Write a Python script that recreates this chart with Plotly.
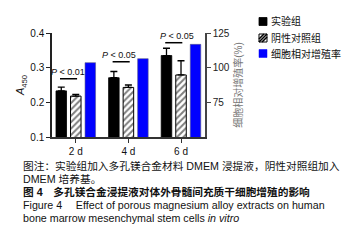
import plotly.graph_objects as go

# ---- data ----
days = ["2 d", "4 d", "6 d"]
exp_vals = [0.233, 0.271, 0.335]
exp_err = [0.011, 0.018, 0.021]
neg_vals = [0.218, 0.243, 0.279]
neg_err = [0.005, 0.007, 0.041]
rate_vals = [103.6, 106.5, 116.8]
sig_labels = ["P < 0.01", "P < 0.05", "P < 0.05"]
sig_heights = [0.268, 0.317, 0.372]
legend_names = ["实验组", "阴性对照组", "细胞相对增殖率"]

FONT = "Liberation Sans, Arial, Noto Sans CJK SC"
CJK = "Liberation Sans, Noto Sans CJK SC"

BW = 0.2
GAP = 0.076
off_neg = -BW / 2
off_exp = off_neg - GAP - BW
off_rate = BW / 2 + GAP

fig = go.Figure()
fig.add_trace(go.Bar(
    x=days, y=exp_vals, name=legend_names[0], width=BW, offset=off_exp,
    marker=dict(color="black", line=dict(color="black", width=0.8)),
    error_y=dict(type="data", symmetric=False, array=exp_err, arrayminus=[0, 0, 0],
                 color="black", thickness=1.3, width=3.5),
    showlegend=False))
fig.add_trace(go.Bar(
    x=days, y=neg_vals, name=legend_names[1], width=BW, offset=off_neg,
    marker=dict(color="white", line=dict(color="black", width=1),
                pattern=dict(shape="/", fgcolor="black", bgcolor="white", size=4.5, solidity=0.45)),
    error_y=dict(type="data", symmetric=False, array=neg_err, arrayminus=[0, 0, 0],
                 color="black", thickness=1.3, width=3.5),
    showlegend=False))
fig.add_trace(go.Bar(
    x=days, y=rate_vals, name=legend_names[2], width=BW, offset=off_rate, yaxis="y2",
    marker=dict(color="#0000ff", line=dict(color="#5a5a8a", width=0.6)),
    showlegend=False))

# significance brackets
shapes = []
annotations = []
txt_shift = [-0.14, -0.17, -0.08]
for i, (lab, h) in enumerate(zip(sig_labels, sig_heights)):
    shapes.append(dict(type="line", xref="x", yref="y", x0=i - 0.30, x1=i + 0.025,
                       y0=h, y1=h, line=dict(color="black", width=1.5)))
    annotations.append(dict(xref="x", yref="y", x=i + txt_shift[i], y=h, yshift=7,
                            text="<i>P</i> &lt; " + lab.split("< ")[1], showarrow=False,
                            font=dict(family=FONT, size=9, color="#111"),
                            xanchor="center", yanchor="middle"))

# paper coordinate helpers (plot area: x 52..205, y 33..137)
def px_x(p):
    return (p - 52) / 153.0

def px_y(p):
    return (137 - p) / 104.0

# manual legend
leg_rows = [21.5, 38, 53.5]
bx0, bx1 = 259, 267
for i, (row, name) in enumerate(zip(leg_rows, legend_names)):
    y0, y1 = row - 4, row + 4
    if i == 0:
        shapes.append(dict(type="rect", xref="paper", yref="paper", x0=px_x(bx0), x1=px_x(bx1),
                           y0=px_y(y1), y1=px_y(y0), fillcolor="black", line=dict(color="black", width=0.8)))
    elif i == 1:
        shapes.append(dict(type="rect", xref="paper", yref="paper", x0=px_x(bx0), x1=px_x(bx1),
                           y0=px_y(y1), y1=px_y(y0), fillcolor="white", line=dict(color="black", width=1)))
        for (xa, ya, xb, yb) in [(bx0, row + 1, bx0 + 5, row - 4), (bx0, row + 4, bx1, row - 4),
                                 (bx0 + 3, row + 4, bx1, row - 1)]:
            shapes.append(dict(type="line", xref="paper", yref="paper", x0=px_x(xa), x1=px_x(xb),
                               y0=px_y(ya), y1=px_y(yb), line=dict(color="black", width=1.6)))
    else:
        shapes.append(dict(type="rect", xref="paper", yref="paper", x0=px_x(bx0), x1=px_x(bx1),
                           y0=px_y(y1), y1=px_y(y0), fillcolor="#0000ff", line=dict(color="#0000ff", width=0.5)))
    annotations.append(dict(xref="paper", yref="paper", x=px_x(269), y=px_y(row), text=name,
                            showarrow=False, xanchor="left", yanchor="middle",
                            font=dict(family=CJK, size=10, color="#111")))

# caption
cap_lines = [
    ("图注：实验组加入多孔镁合金材料 DMEM 浸提液，阴性对照组加入", 166),
    ("DMEM 培养基。", 178.5),
    ("<b>图 4\u2003多孔镁合金浸提液对体外骨髓间充质干细胞增殖的影响</b>", 192),
    ("Figure 4\u2003 Effect of porous magnesium alloy extracts on human", 205),
    ("bone marrow mesenchymal stem cells <i>in vitro</i>", 217.5),
]
for txt, yy in cap_lines:
    annotations.append(dict(xref="paper", yref="paper", x=px_x(21), y=px_y(yy), text=txt,
                            showarrow=False, xanchor="left", yanchor="middle",
                            font=dict(family=CJK, size=10.7, color="#111")))

fig.update_layout(
    width=347, height=249,
    margin=dict(l=52, r=142, t=33, b=112),
    paper_bgcolor="white", plot_bgcolor="white",
    barmode="overlay",
    font=dict(family=FONT, size=10, color="#111"),
    xaxis=dict(type="category", categoryorder="array", categoryarray=days,
               range=[-0.452, 2.456], showline=True, linecolor="#333", linewidth=1.5,
               ticks="outside", ticklen=4, tickwidth=1.2, tickcolor="#333",
               tickfont=dict(family=FONT, size=10, color="#111"), showgrid=False, zeroline=False),
    yaxis=dict(range=[0.1, 0.4], tickvals=[0.1, 0.2, 0.3, 0.4], ticktext=["0.1", "0.2", "0.3", "0.4"],
               showline=True, linecolor="#222", linewidth=1.5, ticks="outside", ticklen=4,
               tickwidth=1.2, tickcolor="#222", showgrid=False, zeroline=False,
               tickfont=dict(family=FONT, size=10, color="#111"),
               title=dict(text="<i>A</i><sub>450</sub>", font=dict(family=FONT, size=11, color="#111"),
                          standoff=3)),
    yaxis2=dict(overlaying="y", side="right", range=[50, 125], tickvals=[75, 100, 125],
                showline=True, linecolor="#444", linewidth=1.5, ticks="outside", ticklen=4,
                tickwidth=1.2, tickcolor="#444", showgrid=False, zeroline=False,
                tickfont=dict(family=FONT, size=10, color="#222"),
                title=dict(text="细胞相对增殖率(%)", font=dict(family=CJK, size=10, color="#777"),
                           standoff=6)),
    shapes=shapes,
    annotations=annotations,
)

fig.write_html("out.html")
